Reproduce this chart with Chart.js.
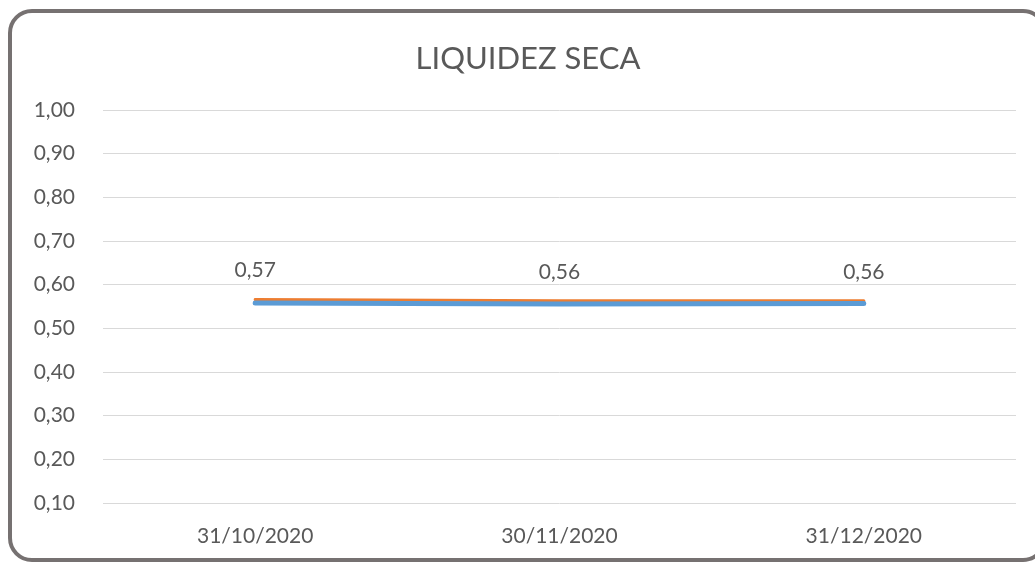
<!DOCTYPE html>
<html>
<head>
<meta charset="utf-8">
<script src="https://cdn.jsdelivr.net/npm/chart.js@4/dist/chart.umd.min.js"></script>
<style>
    html, body { margin: 0; padding: 0; background: #fff; overflow: hidden; }
    .wrap { position: relative; width: 1035px; height: 562px; }
    .frame {
        position: absolute; left: 8px; top: 9px; width: 1039px; height: 553px;
        box-sizing: border-box; border: 4px solid #767171; border-radius: 24px;
    }
    #chart { position: absolute; left: 0; top: 0; }
</style>
</head>
<body>
<div class="wrap">
    <div class="frame"></div>
    <canvas id="chart" width="1035" height="562"></canvas>
</div>
<script>
const labels = ['31/10/2020', '30/11/2020', '31/12/2020'];
const orangeValues = [0.566, 0.563, 0.563];
const blueValues = [0.558, 0.556, 0.557];
const yTicks = { min: 0.1, max: 1.0, step: 0.1 };
const chartTitle = 'LIQUIDEZ SECA';

const fontFamily = 'Lato, "Open Sans", sans-serif';
const textColor = '#595959';

const fmt = (v) => Number(v).toFixed(2).replace('.', ',');

// title (centred on the frame, not the canvas) + labels above the orange line
const textLayer = {
    id: 'textLayer',
    afterDraw(chart) {
        const ctx = chart.ctx;
        ctx.save();
        ctx.fillStyle = textColor;
        ctx.textAlign = 'center';
        ctx.textBaseline = 'middle';
        ctx.font = '31px ' + fontFamily;
        ctx.fillText(chartTitle, 528, 59);

        const meta = chart.getDatasetMeta(0);
        ctx.font = '21px ' + fontFamily;
        meta.data.forEach((pt, i) => {
            ctx.fillText(fmt(orangeValues[i]), pt.x, pt.y - 29);
        });
        ctx.restore();
    }
};

const ctx = document.getElementById('chart').getContext('2d');
new Chart(ctx, {
    type: 'line',
    data: {
        labels: labels,
        datasets: [{
            label: 'Serie 2',
            data: orangeValues,
            borderColor: '#ED7D31',
            borderWidth: 3,
            borderCapStyle: 'round',
            pointRadius: 0,
            order: 1
        }, {
            label: 'Serie 1',
            data: blueValues,
            borderColor: '#5B9BD5',
            borderWidth: 5,
            borderCapStyle: 'round',
            pointRadius: 0,
            order: 0
        }]
    },
    options: {
        responsive: false,
        animation: false,
        layout: { padding: { left: 0, right: 19, top: 110, bottom: 0 } },
        plugins: {
            legend: { display: false },
            tooltip: { enabled: false },
            title: { display: false }
        },
        scales: {
            x: {
                offset: true,
                grid: { display: false },
                border: { display: false },
                ticks: {
                    color: textColor,
                    font: { family: fontFamily, size: 21 },
                    padding: 13
                },
                afterFit: (scale) => { scale.height = 59; }
            },
            y: {
                min: yTicks.min,
                max: yTicks.max,
                grid: { color: '#d9d9d9', drawTicks: false },
                border: { display: false },
                ticks: {
                    stepSize: yTicks.step,
                    color: textColor,
                    font: { family: fontFamily, size: 21 },
                    padding: 28,
                    callback: (v) => fmt(v)
                },
                afterFit: (scale) => { scale.width = 103; }
            }
        }
    },
    plugins: [textLayer]
});
</script>
</body>
</html>
